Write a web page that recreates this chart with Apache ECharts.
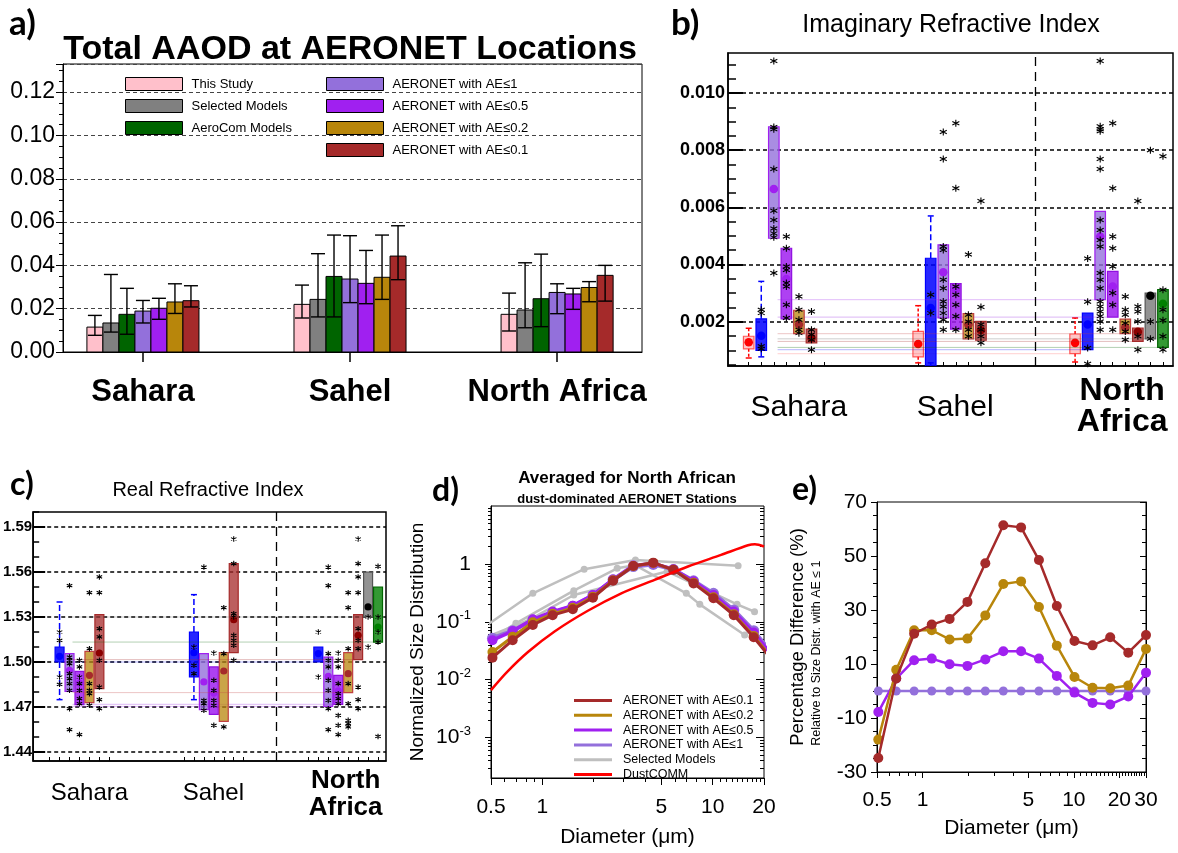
<!DOCTYPE html>
<html>
<head>
<meta charset="utf-8">
<title>Dust absorption and size distribution</title>
<script src="https://cdn.jsdelivr.net/npm/echarts@6.0.0/dist/echarts.min.js"></script>
<style>
html, body { margin:0; padding:0; background:#ffffff; width:1178px; height:853px; overflow:hidden; }
.layer { position:absolute; left:0; top:0; width:1178px; height:853px; }
</style>
</head>
<body>
<div id="panelA" class="layer"></div>
<div id="panelB" class="layer"></div>
<div id="panelC" class="layer"></div>
<div id="panelD" class="layer"></div>
<div id="panelE" class="layer"></div>
<script>
// ===================== DATA =====================
const regionNames = ['Sahara', 'Sahel', 'North Africa'];

// ---- panel a: total AAOD ----
const aaodNames = ['This Study', 'Selected Models', 'AeroCom Models', 'AERONET with AE≤1', 'AERONET with AE≤0.5', 'AERONET with AE≤0.2', 'AERONET with AE≤0.1'];
const aaodThisStudy = [0.0115, 0.0220, 0.0174];
const aaodThisStudyErr = [[0.0077, 0.0169], [0.0157, 0.0309], [0.0097, 0.0272]];
const aaodSelectedModels = [0.0134, 0.0243, 0.0194];
const aaodSelectedModelsErr = [[0.0092, 0.0358], [0.0162, 0.0454], [0.0112, 0.0412]];
const aaodAeroCom = [0.0174, 0.0349, 0.0246];
const aaodAeroComErr = [[0.0082, 0.0294], [0.0162, 0.0540], [0.0117, 0.0452]];
const aaodAE1 = [0.0189, 0.0337, 0.0275];
const aaodAE1Err = [[0.0134, 0.0238], [0.0228, 0.0537], [0.0177, 0.0315]];
const aaodAE05 = [0.0202, 0.0317, 0.0268];
const aaodAE05Err = [[0.0151, 0.0248], [0.0223, 0.0469], [0.0197, 0.0294]];
const aaodAE02 = [0.0231, 0.0345, 0.0298];
const aaodAE02Err = [[0.0178, 0.0315], [0.0243, 0.0540], [0.0232, 0.0325]];
const aaodAE01 = [0.0237, 0.0443, 0.0354];
const aaodAE01Err = [[0.0208, 0.0306], [0.0334, 0.0583], [0.0235, 0.0400]];

// ---- panel b: imaginary refractive index, per region [low, high, centre] ----
const imagThisStudyBox = [[0.00105, 0.00149, 0.00128], [0.00077, 0.00166, 0.00122], [0.00088, 0.00157, 0.00126]];
const imagThisStudyWhisker = [[0.00073, 0.00177], [0.00056, 0.00256], [0.00059, 0.00213]];
const imagRefBox = [[0.00100, 0.00210, 0.00151], [0.00040, 0.00422, 0.00248], [0.00102, 0.00230, 0.00190]];
const imagRefWhisker = [[0.00077, 0.00341], [0.00056, 0.00570], null];
const imagAE1Box = [[0.00492, 0.00882, 0.00664], [0.00213, 0.00469, 0.00373], [0.00277, 0.00586, 0.00498]];
const imagAE05Box = [[0.00210, 0.00457, 0.00349], [0.00174, 0.00333, 0.00312], [0.00216, 0.00376, 0.00323]];
const imagAE02Box = [[0.00158, 0.00240, 0.00190], [0.00140, 0.00228, 0.00190], [0.00158, 0.00209, 0.00180]];
const imagAE01Box = [[0.00126, 0.00174, 0.00143], [0.00135, 0.00201, 0.00170], [0.00131, 0.00178, 0.00165]];
const imagModelsBox = [null, null, [0.00140, 0.00300, 0.00291]];
const imagAeroComBox = [null, null, [0.00110, 0.00312, 0.00263]];
const imagRefStars = [[0.0023, 0.00242, 0.00114, 0.00105], [0.00294, 0.0023], [0.00421, 0.0027, 0.00108, 0.00053]];
const imagAE1Stars = [
  [0.01112, 0.00881, 0.00873, 0.00734, 0.00588, 0.00556, 0.00526, 0.00509, 0.00495, 0.0037],
  [0.00864, 0.00769, 0.00463, 0.00451, 0.00347, 0.00317, 0.00271, 0.00253, 0.0023, 0.00207, 0.00172],
  [0.01112, 0.00884, 0.00873, 0.00866, 0.00769, 0.00734, 0.00556, 0.00521, 0.00486, 0.00463, 0.0037, 0.00347, 0.00317, 0.00271, 0.00253, 0.00236, 0.00219, 0.00201, 0.00172]];
const imagAE05Stars = [
  [0.00498, 0.00457, 0.00393, 0.00381, 0.00335, 0.00323, 0.00259, 0.00213],
  [0.00894, 0.00667, 0.00323, 0.00294, 0.00259, 0.00219, 0.00172],
  [0.00894, 0.00667, 0.00498, 0.00457, 0.00393, 0.003, 0.00259, 0.00172]];
const imagAE02Stars = [
  [0.00288, 0.00242, 0.00207, 0.00172, 0.0016],
  [0.00435, 0.00224, 0.00201, 0.00172, 0.00149],
  [0.00288, 0.00242, 0.00224, 0.00195, 0.00166, 0.00137]];
const imagAE01Stars = [
  [0.00236, 0.00172, 0.00155, 0.00137, 0.00102],
  [0.00622, 0.00251, 0.0019, 0.00172, 0.00149, 0.00126],
  [0.00622, 0.00253, 0.00236, 0.00201, 0.00149, 0.00102]];
const imagModelsStars = [[], [], [0.008, 0.00201, 0.0014]];
const imagAeroComStars = [[], [], [0.00779, 0.00312, 0.00242, 0.00205, 0.00149, 0.00102]];
const imagMajorTicks = [0.002, 0.004, 0.006, 0.008, 0.010];
const imagMinorTicks = [0.0005, 0.001, 0.0015, 0.0025, 0.003, 0.0035, 0.0045, 0.005, 0.0055, 0.0065, 0.007, 0.0075, 0.0085, 0.009, 0.0095, 0.0105, 0.011];

// ---- panel c: real refractive index ----
const realRefBox = [[1.500, 1.510, 1.5038], [1.490, 1.520, 1.5062], [1.500, 1.510, 1.5056]];
const realRefWhisker = [[1.4749, 1.540], [1.4749, 1.5449], null];
const realAE1Box = [[1.4804, 1.5056, 1.4944], [1.4682, 1.5056, 1.4867], [1.4704, 1.5033, 1.4904]];
const realAE05Box = [[1.4716, 1.4938, 1.4860], [1.4651, 1.4967, 1.4793], [1.4718, 1.4911, 1.4807]];
const realAE02Box = [[1.4729, 1.5071, 1.4911], [1.4604, 1.5062, 1.4940], [1.4796, 1.5062, 1.4922]];
const realAE01Box = [[1.4822, 1.5316, 1.5060], [1.5062, 1.5656, 1.5282], [1.5016, 1.5316, 1.5178]];
const realModelsBox = [null, null, [1.530, 1.560, 1.5367]];
const realAeroComBox = [null, null, [1.5133, 1.550, 1.5233]];
const realRefStars = [[1.52, 1.5144, 1.49, 1.4851], [1.51, 1.4978, 1.4922], [1.52, 1.49]];
const realAE1Stars = [
  [1.5509, 1.5033, 1.5011, 1.4989, 1.4922, 1.4889, 1.4856, 1.4811, 1.4689, 1.4549],
  [1.5633, 1.4744, 1.4722, 1.4678],
  [1.5633, 1.5509, 1.5056, 1.5011, 1.4967, 1.4878, 1.4811, 1.4744, 1.4689, 1.4549]];
const realAE05Stars = [
  [1.5011, 1.4967, 1.49, 1.4856, 1.4811, 1.4756, 1.4722, 1.4516],
  [1.506, 1.4878, 1.4811, 1.4744, 1.4711, 1.4578],
  [1.506, 1.5011, 1.4967, 1.4856, 1.4789, 1.4756, 1.4722, 1.4644, 1.4578, 1.4516]];
const realAE02Stars = [
  [1.5462, 1.5089, 1.4856, 1.4811, 1.4789, 1.4711],
  [1.5362, 1.5056, 1.4567],
  [1.5462, 1.5362, 1.5089, 1.4856, 1.4722, 1.4611, 1.4589, 1.4567]];
const realAE01Stars = [
  [1.5567, 1.5462, 1.5222, 1.5167, 1.5011, 1.4833, 1.4749, 1.4689],
  [1.582, 1.5656, 1.5322, 1.53, 1.5178, 1.5144, 1.5111, 1.5011],
  [1.582, 1.5656, 1.5567, 1.5462, 1.5222, 1.5144, 1.5089, 1.4833, 1.4749, 1.4689]];
const realModelsStars = [[], [], [1.53, 1.51]];
const realAeroComStars = [[], [], [1.5638, 1.53, 1.52, 1.5133, 1.4504]];
const realMajorTicks = [1.44, 1.47, 1.50, 1.53, 1.56, 1.59];
const realMinorTicks = [1.44, 1.45, 1.46, 1.47, 1.48, 1.49, 1.50, 1.51, 1.52, 1.53, 1.54, 1.55, 1.56, 1.57, 1.58, 1.59, 1.60];

// ---- panel d: normalised size distributions ----
const sizeBins = [0.51, 0.67, 0.88, 1.15, 1.51, 1.98, 2.60, 3.42, 4.48, 5.88, 7.72, 10.1, 13.3, 17.4, 22.9, 30.0];
const distAE01 = [0.024, 0.048, 0.088, 0.130, 0.164, 0.26, 0.51, 0.92, 1.05, 0.79, 0.46, 0.254, 0.130, 0.054, 0.020];
const distAE02 = [0.030, 0.055, 0.098, 0.137, 0.174, 0.27, 0.52, 0.92, 1.04, 0.79, 0.47, 0.265, 0.135, 0.057, 0.021];
const distAE05 = [0.048, 0.069, 0.110, 0.150, 0.190, 0.29, 0.54, 0.94, 1.02, 0.81, 0.50, 0.290, 0.150, 0.065, 0.024];
const distAE1 = [0.052, 0.070, 0.107, 0.145, 0.185, 0.285, 0.53, 0.90, 0.98, 0.80, 0.51, 0.310, 0.160, 0.070, 0.026];
const modelDistA = [[0.44, 0.075], [0.88, 0.31], [1.76, 0.81], [3.52, 1.17], [14.1, 0.93]];
const modelDistB = [[0.44, 0.040], [0.70, 0.094], [1.53, 0.345], [2.75, 0.84], [3.5, 0.95], [7.0, 0.31], [8.4, 0.20], [15.4, 0.059]];
const modelDistC = [[0.44, 0.050], [0.85, 0.11], [1.53, 0.29], [5.4, 0.74], [13.9, 0.20], [17.6, 0.149]];
const dustcommDiam = [0.5, 0.62, 0.824, 1.18, 1.85, 2.91, 4.56, 7.16, 11.2, 16.1, 17.7, 20.0];
const dustcommDist = [0.0066, 0.0135, 0.030, 0.068, 0.155, 0.31, 0.53, 0.90, 1.43, 2.10, 2.19, 2.0];
const sizeMajorTicksD = [0.5, 1, 5, 10, 20];
const sizeMinorTicksD = [0.6, 0.7, 0.8, 0.9, 2, 3, 4, 6, 7, 8, 9, 11, 12, 13, 14, 15, 16, 17, 18, 19];
const distMajorTicks = [0.001, 0.01, 0.1, 1];
const distMinorTicks = [0.0003, 0.0004, 0.0005, 0.0006, 0.0007, 0.0008, 0.0009, 0.002, 0.003, 0.004, 0.005, 0.006, 0.007, 0.008, 0.009,
  0.02, 0.03, 0.04, 0.05, 0.06, 0.07, 0.08, 0.09, 0.2, 0.3, 0.4, 0.5, 0.6, 0.7, 0.8, 0.9, 2, 3, 4, 5, 6, 7, 8, 9];

// ---- panel e: percentage differences relative to AE<=1 ----
const pctAE01 = [-24.8, 4.6, 21.2, 24.6, 26.7, 33.0, 47.3, 61.4, 60.6, 48.5, 31.5, 18.5, 16.9, 19.9, 14.2, 20.7];
const pctAE02 = [-18.0, 7.9, 22.5, 22.5, 19.1, 19.4, 28.0, 39.6, 40.6, 31.1, 16.8, 5.2, 1.2, 1.0, 2.0, 15.6];
const pctAE05 = [-7.8, 4.6, 11.4, 12.0, 9.9, 9.3, 11.7, 14.7, 14.7, 12.0, 5.6, -0.6, -4.4, -5.0, -2.0, 6.8];
const pctAE1 = [0, 0, 0, 0, 0, 0, 0, 0, 0, 0, 0, 0, 0, 0, 0, 0];
const sizeMajorTicksE = [0.5, 1, 5, 10, 20, 30];
const sizeMinorTicksE = [0.6, 0.7, 0.8, 0.9, 2, 3, 4, 6, 7, 8, 9, 11, 12, 13, 14, 15, 16, 17, 18, 19, 21, 22, 23, 24, 25, 26, 27, 28, 29];

// ===================== STYLE / LAYOUT =====================
const FONT = '"Liberation Sans", Arial, Helvetica, sans-serif';
const LETTER = 'Lato, "Open Sans", sans-serif';
const C_PINK = '#ffc0cb', C_GREY = '#808080', C_GREEN = '#006400', C_LAV = '#9370db', C_PUR = '#a020f0', C_GOLD = '#b8860b', C_BROWN = '#a52a2a';

function txt(text, x, y, size, o) {
  o = o || {};
  return {
    type: 'text', x: x, y: y, rotation: o.rotation || 0, silent: true,
    style: {
      legacy: false, text: text, fill: '#000', fontSize: size,
      fontFamily: o.family || FONT, fontWeight: o.bold ? 'bold' : 'normal',
      align: o.align || 'center', verticalAlign: 'middle'
    }
  };
}
function initChart(id, option) {
  const c = echarts.init(document.getElementById(id), null, { renderer: 'canvas', width: 1178, height: 853 });
  c.setOption(option);
  return c;
}
const NOZERO = { onZero: false };

// ===================== PANEL A =====================
const aaodMeans = [aaodThisStudy, aaodSelectedModels, aaodAeroCom, aaodAE1, aaodAE05, aaodAE02, aaodAE01];
const aaodErrs = [aaodThisStudyErr, aaodSelectedModelsErr, aaodAeroComErr, aaodAE1Err, aaodAE05Err, aaodAE02Err, aaodAE01Err];
const aaodColors = [C_PINK, C_GREY, C_GREEN, C_LAV, C_PUR, C_GOLD, C_BROWN];
const A_BAR = 0.0773;
const aSeries = aaodMeans.map((vals, i) => ({
  type: 'custom', name: aaodNames[i],
  itemStyle: { color: aaodColors[i] },
  encode: { x: 0, y: [1, 2, 3] },
  data: vals.map((v, r) => [r + 1, v, aaodErrs[i][r][0], aaodErrs[i][r][1]]),
  renderItem: (params, api) => {
    const x = api.value(0) + (i - 3) * A_BAR;
    const top = api.coord([x, api.value(1)]);
    const base = api.coord([x, 0]);
    const lo = api.coord([x, api.value(2)]);
    const hi = api.coord([x, api.value(3)]);
    const w = api.size([A_BAR, 0])[0];
    const cap = 7;
    const ls = { stroke: '#000', lineWidth: 1.4 };
    return { type: 'group', children: [
      { type: 'rect', shape: { x: top[0] - w / 2, y: top[1], width: w, height: base[1] - top[1] }, style: { fill: aaodColors[i], stroke: '#000', lineWidth: 1 } },
      { type: 'line', shape: { x1: top[0], y1: lo[1], x2: top[0], y2: hi[1] }, style: ls },
      { type: 'line', shape: { x1: top[0] - cap, y1: lo[1], x2: top[0] + cap, y2: lo[1] }, style: ls },
      { type: 'line', shape: { x1: top[0] - cap, y1: hi[1], x2: top[0] + cap, y2: hi[1] }, style: ls }
    ] };
  }
}));
const legendA = (names, left) => ({
  data: names, left: left, top: 72, orient: 'vertical', icon: 'rect', itemWidth: 57, itemHeight: 13, itemGap: 8,
  selectedMode: false, itemStyle: { borderColor: '#000', borderWidth: 1 },
  textStyle: { fontSize: 13, color: '#000', fontFamily: FONT, padding: [0, 0, 0, 4] }
});
initChart('panelA', {
  animation: false,
  textStyle: { fontFamily: FONT },
  grid: { left: 63, top: 64, width: 579, height: 288, show: true, borderColor: '#000', borderWidth: 1 },
  xAxis: {
    type: 'value', min: 0.614, max: 3.41, splitLine: { show: false },
    axisLine: { show: true, onZero: false, lineStyle: { color: '#000', width: 1 } },
    axisTick: { show: true, customValues: [1, 2, 3], length: 10, lineStyle: { color: '#000', width: 1.5 } },
    axisLabel: { customValues: [1, 2, 3], formatter: v => regionNames[Math.round(v) - 1], margin: 25, color: '#000', fontSize: 31, fontWeight: 'bold', fontFamily: FONT }
  },
  yAxis: {
    type: 'value', min: 0, max: 0.133, interval: 0.02,
    axisLine: { show: true, onZero: false, lineStyle: { color: '#000' } },
    axisTick: { show: true, length: 7, lineStyle: { color: '#000' } },
    minorTick: { show: true, splitNumber: 4, length: 4, lineStyle: { color: '#000' } },
    axisLabel: { formatter: v => v.toFixed(2), fontSize: 23, color: '#000', margin: 8, showMaxLabel: false, fontFamily: FONT },
    splitLine: { show: true, lineStyle: { type: [4, 3], color: '#444', width: 1 } }
  },
  legend: [legendA(aaodNames.slice(0, 3), 120), legendA(aaodNames.slice(3), 321)],
  graphic: [
    txt('a)', 9, 24, 35, { bold: true, align: 'left', family: LETTER }),
    txt('Total AAOD at AERONET Locations', 350, 50, 34, { bold: true })
  ],
  series: aSeries
});

// ===================== PANELS B & C (box plots) =====================
const regionOffsets = [0, 13.5, 26];
const regionLabelSlots = [4.0, 16.45, 29.75];
const STAR = 'path://M5,0L5,10M0.67,2.5L9.33,7.5M0.67,7.5L9.33,2.5';
const slotTicks = [0, 1, 2, 3, 4, 5, 6, 13.5, 14.5, 15.5, 16.5, 17.5, 18.5, 19.5, 26, 27, 28, 29, 30, 31, 32, 33];

function boxSeries(kinds, cfg) {
  const out = [];
  kinds.forEach(k => {
    const data = [];
    k.box.forEach((b, r) => {
      if (!b) return;
      const w = k.whisk ? k.whisk[r] : null;
      data.push([regionOffsets[r] + k.slot, b[0], b[1], b[2], w ? w[0] : NaN, w ? w[1] : NaN, r]);
    });
    out.push({
      type: 'custom', clip: true, z: 3, data: data, encode: { x: 0, y: [1, 2] },
      renderItem: (params, api) => {
        const x = api.value(0);
        const pLo = api.coord([x, api.value(1)]);
        const pHi = api.coord([x, api.value(2)]);
        const pC = api.coord([x, api.value(3)]);
        const bw = api.size([cfg.boxW, 0])[0];
        const x0 = pLo[0];
        const ch = [];
        if (api.value(6) === 2) {
          const g = api.coord([cfg.guideStart, api.value(1)]);
          ch.push({ type: 'line', shape: { x1: g[0], y1: pLo[1], x2: x0 - bw / 2, y2: pLo[1] }, style: { stroke: k.stroke, lineWidth: 1, opacity: 0.3 } });
        }
        const wl = api.value(4), wh = api.value(5);
        if (!isNaN(wh)) {
          const pWl = api.coord([x, wl]), pWh = api.coord([x, wh]);
          const ws = { stroke: k.wcolor, lineWidth: 1.5, lineDash: k.wdash };
          const cs = { stroke: k.wcolor, lineWidth: 1.5 };
          const cap = cfg.cap;
          ch.push({ type: 'line', shape: { x1: x0, y1: pHi[1], x2: x0, y2: pWh[1] }, style: ws });
          ch.push({ type: 'line', shape: { x1: x0, y1: pLo[1], x2: x0, y2: pWl[1] }, style: ws });
          ch.push({ type: 'line', shape: { x1: x0 - cap, y1: pWh[1], x2: x0 + cap, y2: pWh[1] }, style: cs });
          ch.push({ type: 'line', shape: { x1: x0 - cap, y1: pWl[1], x2: x0 + cap, y2: pWl[1] }, style: cs });
        }
        ch.push({ type: 'rect', shape: { x: x0 - bw / 2, y: pHi[1], width: bw, height: pLo[1] - pHi[1] }, style: { fill: k.fill, stroke: k.stroke, lineWidth: 1.2 } });
        ch.push({ type: 'circle', shape: { cx: x0, cy: pC[1], r: cfg.dotR }, style: { fill: k.dot } });
        return { type: 'group', children: ch };
      }
    });
  });
  const stars = [];
  kinds.forEach(k => k.stars.forEach((arr, r) => arr.forEach(v => stars.push([regionOffsets[r] + k.slot, v]))));
  out.push({
    type: 'scatter', z: 5, data: stars, symbol: STAR, symbolSize: cfg.starSize, clip: true,
    itemStyle: { color: 'rgba(0,0,0,0)', borderColor: '#000', borderWidth: 1.1, opacity: 1 },
    markLine: { silent: true, symbol: ['none', 'none'], animation: false, label: { show: false },
      lineStyle: { color: '#000', type: [9, 6], width: 1.3 }, data: [{ xAxis: 22.8 }] }
  });
  return out;
}
function refYAxes(min, max, major, minor, fmt, size, majLen, minLen, margin) {
  return [
    { type: 'value', min: min, max: max, position: 'left',
      axisLine: { show: true, onZero: false, lineStyle: { color: '#000', width: 1.5 } },
      axisTick: { show: true, customValues: major, inside: true, length: majLen, lineStyle: { color: '#000', width: 2 } },
      axisLabel: { customValues: major, formatter: fmt, fontSize: size, fontWeight: 'bold', color: '#000', fontFamily: FONT, margin: margin },
      splitLine: { show: true, lineStyle: { color: '#000', type: [4, 3], width: 1.5 } },
      minorTick: { show: false } },
    { type: 'value', min: min, max: max, position: 'left', axisLine: { show: false, onZero: false },
      axisTick: { show: true, customValues: minor, inside: true, length: minLen, lineStyle: { color: '#000', width: 1.5 } },
      axisLabel: { show: false }, splitLine: { show: false } }
  ];
}
function refXAxis(margin, nSize, nLH, bSize, bLH) {
  return {
    type: 'value', min: -1.65, max: 33.8, splitLine: { show: false },
    axisLine: { show: true, onZero: false, lineStyle: { color: '#000', width: 1.5 } },
    axisTick: { show: true, customValues: slotTicks, inside: true, length: 4, lineStyle: { color: '#000' } },
    axisLabel: {
      customValues: regionLabelSlots, margin: margin,
      formatter: v => {
        const i = regionLabelSlots.findIndex(s => Math.abs(s - v) < 1e-6);
        return i === 2 ? '{bd|North}\n{bd|Africa}' : '{n|' + regionNames[i] + '}';
      },
      rich: {
        n: { fontSize: nSize, lineHeight: nLH, fontFamily: FONT, color: '#000' },
        bd: { fontSize: bSize, lineHeight: bLH, fontWeight: 'bold', fontFamily: FONT, color: '#000' }
      }
    }
  };
}
const kindStyle = {
  thisStudy: { slot: 0, fill: 'rgba(255,0,0,0.22)', stroke: 'rgba(255,40,40,0.75)', dot: '#ff0000', wcolor: '#ff0000', wdash: [3, 2] },
  ref: { slot: 1, fill: 'rgba(0,0,255,0.85)', stroke: '#0000ff', dot: '#0000ff', wcolor: '#0000ff', wdash: [6, 3] },
  ae1: { slot: 2, fill: 'rgba(147,112,219,0.8)', stroke: '#a020f0', dot: '#a020f0' },
  ae05: { slot: 3, fill: 'rgba(160,32,240,0.85)', stroke: '#9010e0', dot: '#a020f0' },
  ae02: { slot: 4, fill: 'rgba(184,134,11,0.75)', stroke: '#c04040', dot: '#a52a2a' },
  ae01: { slot: 5, fill: 'rgba(165,42,42,0.75)', stroke: '#a52a2a', dot: '#8b0000' },
  models: { slot: 6, fill: 'rgba(120,120,120,0.8)', stroke: '#555', dot: '#000' },
  aerocom: { slot: 7, fill: 'rgba(0,128,0,0.8)', stroke: '#006400', dot: '#008000' }
};
const imagKinds = [
  Object.assign({ box: imagThisStudyBox, whisk: imagThisStudyWhisker, stars: [[], [], []] }, kindStyle.thisStudy),
  Object.assign({ box: imagRefBox, whisk: imagRefWhisker, stars: imagRefStars }, kindStyle.ref),
  Object.assign({ box: imagAE1Box, stars: imagAE1Stars }, kindStyle.ae1),
  Object.assign({ box: imagAE05Box, stars: imagAE05Stars }, kindStyle.ae05),
  Object.assign({ box: imagAE02Box, stars: imagAE02Stars }, kindStyle.ae02),
  Object.assign({ box: imagAE01Box, stars: imagAE01Stars }, kindStyle.ae01),
  Object.assign({ box: imagModelsBox, stars: imagModelsStars }, kindStyle.models),
  Object.assign({ box: imagAeroComBox, stars: imagAeroComStars }, kindStyle.aerocom)
];
const realKinds = [
  Object.assign({ box: realRefBox, whisk: realRefWhisker, stars: realRefStars }, kindStyle.ref),
  Object.assign({ box: realAE1Box, stars: realAE1Stars }, kindStyle.ae1),
  Object.assign({ box: realAE05Box, stars: realAE05Stars }, kindStyle.ae05),
  Object.assign({ box: realAE02Box, stars: realAE02Stars }, kindStyle.ae02),
  Object.assign({ box: realAE01Box, stars: realAE01Stars }, kindStyle.ae01),
  Object.assign({ box: realModelsBox, stars: realModelsStars }, kindStyle.models),
  Object.assign({ box: realAeroComBox, stars: realAeroComStars }, kindStyle.aerocom)
];

initChart('panelB', {
  animation: false,
  grid: { left: 728, top: 53, width: 445, height: 313, show: true, borderColor: '#000', borderWidth: 1.5 },
  xAxis: refXAxis(10, 30, 64, 32, 31),
  yAxis: refYAxes(0.00045, 0.0114, imagMajorTicks, imagMinorTicks, v => v.toFixed(3), 18, 15, 8, 3),
  graphic: [
    txt('b)', 671, 24, 35, { bold: true, align: 'left', family: LETTER }),
    txt('Imaginary Refractive Index', 951, 25, 25)
  ],
  series: boxSeries(imagKinds, { boxW: 0.84, dotR: 4.3, cap: 3, starSize: 7, guideStart: 2.3 })
});

initChart('panelC', {
  animation: false,
  grid: { left: 31, top: 512, width: 355, height: 249, show: true, borderColor: '#000', borderWidth: 1.5 },
  xAxis: refXAxis(6, 24, 52, 26, 27),
  yAxis: refYAxes(1.434, 1.60, realMajorTicks, realMinorTicks, v => v.toFixed(2), 15, 12, 6, 1),
  graphic: [
    txt('c)', 10, 485, 32, { bold: true, align: 'left', family: LETTER }),
    txt('Real Refractive Index', 208, 490, 20)
  ],
  series: boxSeries(realKinds, { boxW: 0.9, dotR: 3.6, cap: 3, starSize: 5.5, guideStart: 2.3 })
});

// ===================== PANEL D =====================
const zipBins = vals => vals.map((v, i) => [sizeBins[i], v]);
const logAxis = (extra) => Object.assign({ type: 'log', logBase: 10, splitLine: { show: false }, minorTick: { show: false } }, extra);
const greyLine = d => ({
  type: 'line', name: 'Selected Models', data: d, z: 1, symbol: 'circle', symbolSize: 7, showSymbol: true,
  lineStyle: { color: '#bfbfbf', width: 2.5 }, itemStyle: { color: '#bfbfbf' }
});
const aeroLine = (name, vals, color, w, s, z) => ({
  type: 'line', name: name, data: zipBins(vals), z: z, symbol: 'circle', symbolSize: s, showSymbol: true,
  lineStyle: { color: color, width: w }, itemStyle: { color: color }
});
initChart('panelD', {
  animation: false,
  textStyle: { fontFamily: FONT },
  grid: { left: 491, top: 506, width: 273, height: 272, show: true, borderColor: '#000', borderWidth: 1 },
  xAxis: [
    logAxis({ min: 0.5, max: 20, position: 'bottom', axisLine: { show: true, onZero: false, lineStyle: { color: '#000' } },
      axisTick: { customValues: sizeMajorTicksD, length: 7, lineStyle: { color: '#000' } },
      axisLabel: { customValues: sizeMajorTicksD, fontSize: 21, color: '#000', margin: 19, fontFamily: FONT },
      name: 'Diameter (μm)', nameLocation: 'middle', nameGap: 49, nameTextStyle: { fontSize: 21, color: '#000', fontFamily: FONT } }),
    logAxis({ min: 0.5, max: 20, position: 'bottom', axisLine: { show: false, onZero: false },
      axisTick: { customValues: sizeMinorTicksD, length: 4, lineStyle: { color: '#000' } }, axisLabel: { show: false } })
  ],
  yAxis: [
    logAxis({ min: 0.0002, max: 10, position: 'left', axisLine: { show: true, onZero: false, lineStyle: { color: '#000' } },
      axisTick: { customValues: distMajorTicks, length: 6, lineStyle: { color: '#000' } },
      axisLabel: { customValues: distMajorTicks, margin: 20,
        formatter: v => { const e = Math.round(Math.log10(v)); return e === 0 ? '{b|1}' : '{b|10}{s|' + e + '}'; },
        rich: { b: { fontSize: 21, color: '#000', fontFamily: FONT }, s: { fontSize: 13, color: '#000', fontFamily: FONT, padding: [0, 0, 12, 0] } } },
      name: 'Normalized Size Distribution', nameLocation: 'middle', nameGap: 64, nameTextStyle: { fontSize: 19, color: '#000', fontFamily: FONT } }),
    logAxis({ min: 0.0002, max: 10, position: 'left', axisLine: { show: false, onZero: false },
      axisTick: { customValues: distMinorTicks, length: 3, lineStyle: { color: '#000' } }, axisLabel: { show: false } }),
    logAxis({ min: 0.0002, max: 10, position: 'right', axisLine: { show: false, onZero: false },
      axisTick: { customValues: distMajorTicks, inside: true, length: 8, lineStyle: { color: '#000' } }, axisLabel: { show: false } }),
    logAxis({ min: 0.0002, max: 10, position: 'right', axisLine: { show: false, onZero: false },
      axisTick: { customValues: distMinorTicks, inside: true, length: 4, lineStyle: { color: '#000' } }, axisLabel: { show: false } })
  ],
  legend: {
    data: ['AERONET with AE≤0.1', 'AERONET with AE≤0.2', 'AERONET with AE≤0.5', 'AERONET with AE≤1', 'Selected Models', 'DustCOMM'],
    orient: 'vertical', left: 569, top: 689, icon: 'rect', itemWidth: 38, itemHeight: 3, itemGap: 1.8, selectedMode: false,
    textStyle: { fontSize: 12.5, lineHeight: 13, color: '#000', fontFamily: FONT, padding: [0, 0, 0, 6] }
  },
  graphic: [
    txt('d)', 432, 491, 32, { bold: true, align: 'left', family: LETTER }),
    txt('Averaged for North African', 627, 478, 17, { bold: true }),
    txt('dust-dominated AERONET Stations', 627, 499, 13, { bold: true })
  ],
  series: [
    greyLine(modelDistA), greyLine(modelDistB), greyLine(modelDistC),
    aeroLine('AERONET with AE≤1', distAE1, C_LAV, 4, 11, 2),
    aeroLine('AERONET with AE≤0.5', distAE05, C_PUR, 3.5, 10, 3),
    aeroLine('AERONET with AE≤0.2', distAE02, C_GOLD, 3, 10, 4),
    aeroLine('AERONET with AE≤0.1', distAE01, C_BROWN, 3, 10, 5),
    { type: 'line', name: 'DustCOMM', z: 6, smooth: 0.3, showSymbol: false, symbol: 'none',
      data: dustcommDiam.map((d, i) => [d, dustcommDist[i]]),
      lineStyle: { color: '#ff0000', width: 2.5 }, itemStyle: { color: '#ff0000' } }
  ]
});

// ===================== PANEL E =====================
const pctLine = (name, vals, color, s, z) => ({
  type: 'line', name: name, data: zipBins(vals), z: z, symbol: 'circle', symbolSize: s, showSymbol: true,
  lineStyle: { color: color, width: 2.5 }, itemStyle: { color: color }
});
initChart('panelE', {
  animation: false,
  textStyle: { fontFamily: FONT },
  grid: { left: 877, top: 502, width: 269, height: 270, show: true, borderColor: '#000', borderWidth: 1 },
  xAxis: [
    logAxis({ min: 0.5, max: 30, position: 'bottom', axisLine: { show: true, onZero: false, lineStyle: { color: '#000' } },
      axisTick: { customValues: sizeMajorTicksE, length: 6, lineStyle: { color: '#000' } },
      axisLabel: { customValues: sizeMajorTicksE, fontSize: 21, color: '#000', margin: 18, fontFamily: FONT },
      name: 'Diameter (μm)', nameLocation: 'middle', nameGap: 46, nameTextStyle: { fontSize: 21, color: '#000', fontFamily: FONT } }),
    logAxis({ min: 0.5, max: 30, position: 'bottom', axisLine: { show: false, onZero: false },
      axisTick: { customValues: sizeMinorTicksE, length: 4, lineStyle: { color: '#000' } }, axisLabel: { show: false } })
  ],
  yAxis: [
    { type: 'value', min: -30, max: 70, interval: 20, position: 'left', splitLine: { show: false },
      axisLine: { show: true, onZero: false, lineStyle: { color: '#000' } },
      axisTick: { length: 6, lineStyle: { color: '#000' } },
      minorTick: { show: true, splitNumber: 4, length: 4, lineStyle: { color: '#000' } },
      axisLabel: { fontSize: 21, color: '#000', margin: 10, fontFamily: FONT },
      name: '{a|Percentage Difference (%)}\n{b|Relative to Size Distr. with AE ≤ 1}', nameLocation: 'middle', nameGap: 53,
      nameTextStyle: { rich: {
        a: { fontSize: 18.5, lineHeight: 22, align: 'left', color: '#000', fontFamily: FONT },
        b: { fontSize: 12.5, lineHeight: 15, align: 'left', color: '#000', fontFamily: FONT } } } },
    { type: 'value', min: -30, max: 70, interval: 20, position: 'right', splitLine: { show: false },
      axisLine: { show: true, onZero: false, lineStyle: { color: '#000' } },
      axisTick: { inside: true, length: 6, lineStyle: { color: '#000' } },
      minorTick: { show: true, splitNumber: 4, length: 4, lineStyle: { color: '#000' } },
      axisLabel: { show: false } }
  ],
  graphic: [ txt('e)', 792, 490, 32, { bold: true, align: 'left', family: LETTER }) ],
  series: [
    pctLine('AERONET with AE≤1', pctAE1, C_LAV, 9, 2),
    pctLine('AERONET with AE≤0.5', pctAE05, C_PUR, 10, 3),
    pctLine('AERONET with AE≤0.2', pctAE02, C_GOLD, 10, 4),
    pctLine('AERONET with AE≤0.1', pctAE01, C_BROWN, 10, 5)
  ]
});
</script>
</body>
</html>
